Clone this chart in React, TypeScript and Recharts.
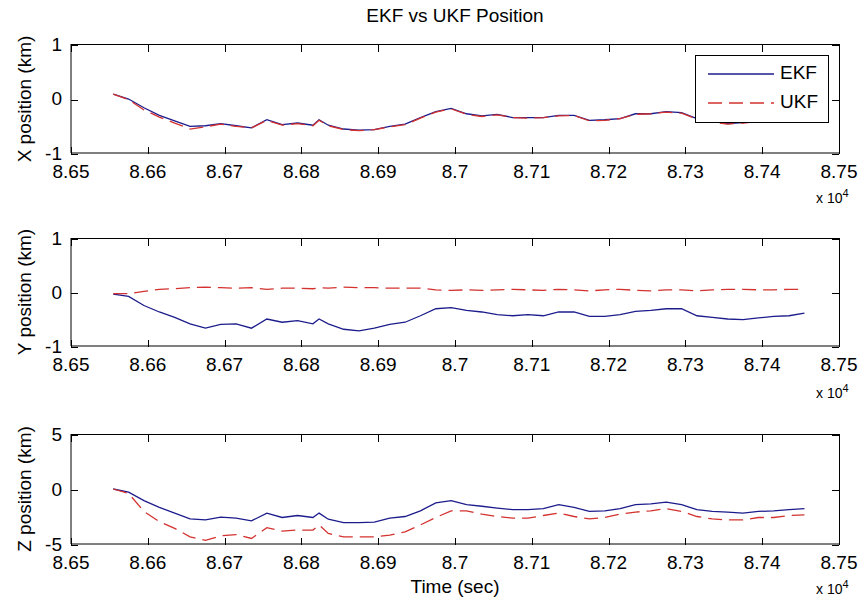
import React from 'react';
import { LineChart, Line, XAxis, YAxis } from 'recharts';

// time in units of 10^4 sec
const time = [
  8.6555, 8.6575, 8.6595, 8.6615, 8.6635, 8.6655, 8.6675, 8.6695, 8.6715, 8.6735, 8.6755, 8.6775,
  8.6795, 8.6815, 8.6823, 8.6835, 8.6855, 8.6875, 8.6895, 8.6915, 8.6935, 8.6955, 8.6975, 8.6995,
  8.7015, 8.7035, 8.7055, 8.7075, 8.7095, 8.7115, 8.7135, 8.7155, 8.7175, 8.7195, 8.7215, 8.7235,
  8.7255, 8.7275, 8.7295, 8.7315, 8.7335, 8.7355, 8.7375, 8.7395, 8.7415, 8.7435, 8.7455,
];

const xEkf = [
  0.08, -0.01, -0.17, -0.31, -0.41, -0.51, -0.5, -0.46, -0.5, -0.54, -0.39, -0.48,
  -0.45, -0.49, -0.39, -0.49, -0.56, -0.58, -0.57, -0.51, -0.47, -0.35, -0.24, -0.18,
  -0.28, -0.32, -0.29, -0.35, -0.35, -0.35, -0.31, -0.31, -0.4, -0.39, -0.37, -0.28,
  -0.28, -0.24, -0.26, -0.37, -0.42, -0.46, -0.44, -0.41, -0.39, -0.37, -0.35,
];
const xUkf = [
  0.08, -0.02, -0.21, -0.34, -0.45, -0.56, -0.52, -0.47, -0.51, -0.54, -0.4, -0.49,
  -0.46, -0.5, -0.4, -0.5, -0.57, -0.59, -0.57, -0.52, -0.48, -0.36, -0.25, -0.19,
  -0.29, -0.33, -0.3, -0.35, -0.36, -0.35, -0.32, -0.31, -0.41, -0.4, -0.37, -0.29,
  -0.28, -0.25, -0.27, -0.38, -0.43, -0.47, -0.45, -0.42, -0.4, -0.38, -0.36,
];

const yEkf = [
  -0.04, -0.08, -0.25, -0.37, -0.47, -0.59, -0.67, -0.6, -0.59, -0.67, -0.5, -0.56,
  -0.53, -0.59, -0.5, -0.59, -0.69, -0.72, -0.67, -0.6, -0.56, -0.44, -0.31, -0.29,
  -0.34, -0.37, -0.42, -0.44, -0.42, -0.44, -0.37, -0.37, -0.45, -0.45, -0.42, -0.36,
  -0.34, -0.31, -0.31, -0.44, -0.47, -0.5, -0.51, -0.48, -0.45, -0.44, -0.39,
];
const yUkf = [
  -0.03, -0.03, 0.01, 0.05, 0.06, 0.08, 0.09, 0.08, 0.07, 0.08, 0.05, 0.07,
  0.07, 0.06, 0.08, 0.07, 0.09, 0.08, 0.08, 0.07, 0.07, 0.07, 0.04, 0.03,
  0.04, 0.03, 0.04, 0.05, 0.04, 0.03, 0.05, 0.04, 0.02, 0.04, 0.05, 0.03,
  0.02, 0.04, 0.04, 0.02, 0.04, 0.05, 0.05, 0.04, 0.04, 0.05, 0.05,
];

const zEkf = [
  0, -0.28, -1.05, -1.67, -2.19, -2.72, -2.81, -2.56, -2.65, -2.9, -2.19, -2.59,
  -2.41, -2.59, -2.19, -2.75, -3.06, -3.06, -3.02, -2.65, -2.5, -1.98, -1.27, -1.05,
  -1.42, -1.57, -1.73, -1.88, -1.88, -1.79, -1.42, -1.67, -2.04, -1.98, -1.79, -1.42,
  -1.36, -1.2, -1.42, -1.88, -2.04, -2.1, -2.19, -2.04, -1.98, -1.88, -1.79,
];
const zUkf = [
  0, -0.4, -2.04, -2.96, -3.58, -4.35, -4.66, -4.26, -4.14, -4.5, -3.52, -3.83,
  -3.73, -3.73, -3.27, -4.04, -4.35, -4.35, -4.35, -4.2, -3.89, -3.27, -2.59, -1.98,
  -1.98, -2.28, -2.5, -2.65, -2.65, -2.41, -2.19, -2.5, -2.72, -2.59, -2.28, -2.1,
  -1.98, -1.79, -2.04, -2.5, -2.72, -2.81, -2.81, -2.59, -2.59, -2.41, -2.35,
];

const xTicks = [8.65, 8.66, 8.67, 8.68, 8.69, 8.7, 8.71, 8.72, 8.73, 8.74, 8.75];
const smallTicks = [-1, 0, 1];
const bigTicks = [-5, 0, 5];

const FONT = '"Liberation Sans", Arial, sans-serif';
const EKF_COLOR = '#1c1c8c';
const UKF_COLOR = '#d3322f';
const TICK_LEN = 7;
const CHART_W = 863;
const M_LEFT = 21;
const M_RIGHT = 24;
const Y_AXIS_W = 50;
const X_AXIS_H = 30;
const PLOT_L = M_LEFT + Y_AXIS_W;
const PLOT_W = CHART_W - M_LEFT - M_RIGHT - Y_AXIS_W;

const fmtX = (v: number) => String(Number(v.toFixed(2)));

const LegendBox = () => (
  <div style={{
    width: 134, height: 68, boxSizing: 'border-box', border: '1px solid #000',
    background: '#fff', fontFamily: FONT, fontSize: 19, position: 'relative',
  }}>
    <svg width={80} height={66} style={{ position: 'absolute', left: 0, top: 0 }}>
      <line x1={12} y1={18} x2={78} y2={18} stroke={EKF_COLOR} strokeWidth={1.3} />
      <line x1={12} y1={47} x2={78} y2={47} stroke={UKF_COLOR} strokeWidth={1.3} strokeDasharray="14 7" />
    </svg>
    <div style={{ position: 'absolute', left: 84, top: 6 }}>EKF</div>
    <div style={{ position: 'absolute', left: 84, top: 35 }}>UKF</div>
  </div>
);

interface PanelProps {
  ekf: number[];
  ukf: number[];
  yTicks: number[];
  yLabel: string;
  top: number;
  height: number;
  mTop: number;
  mBottom: number;
}

// matlab style box with inward ticks, drawn as plain html so it sits on top of the chart
const Frame = ({ top, height, mTop, mBottom, yTicks }: PanelProps) => {
  const t = top + mTop;
  const h = height - mTop - mBottom - X_AXIS_H;
  const lo = yTicks[0];
  const hi = yTicks[yTicks.length - 1];
  const px = (v: number) => ((v - xTicks[0]) / (xTicks[xTicks.length - 1] - xTicks[0])) * PLOT_W;
  const py = (v: number) => h - ((v - lo) / (hi - lo)) * h;
  const mark = { position: 'absolute' as const, background: '#000' };
  return (
    <div style={{
      position: 'absolute', left: PLOT_L, top: t, width: PLOT_W, height: h,
      borderTop: '1px solid #000', borderRight: '1px solid #000', zIndex: 5, pointerEvents: 'none',
    }}>
      {xTicks.map((v) => (
        <React.Fragment key={'x' + v}>
          <div style={{ ...mark, left: px(v), top: 0, width: 1, height: TICK_LEN }} />
          <div style={{ ...mark, left: px(v), top: h - TICK_LEN, width: 1, height: TICK_LEN }} />
        </React.Fragment>
      ))}
      {yTicks.map((v) => (
        <React.Fragment key={'y' + v}>
          <div style={{ ...mark, left: 0, top: py(v), width: TICK_LEN, height: 1 }} />
          <div style={{ ...mark, left: PLOT_W - TICK_LEN, top: py(v), width: TICK_LEN, height: 1 }} />
        </React.Fragment>
      ))}
    </div>
  );
};

const Panel = ({ ekf, ukf, yTicks, yLabel, top, height, mTop, mBottom }: PanelProps) => {
  const data = time.map((t, i) => ({ t, ekf: ekf[i], ukf: ukf[i] }));
  const lo = yTicks[0];
  const hi = yTicks[yTicks.length - 1];
  const tickStyle = { fill: '#000', fontSize: 19, fontFamily: FONT };
  const midY = mTop + (height - mTop - mBottom - X_AXIS_H) / 2;
  return (
    <div style={{ position: 'absolute', left: 0, top }}>
      <LineChart width={CHART_W} height={height} data={data}
        margin={{ top: mTop, right: M_RIGHT, bottom: mBottom, left: M_LEFT }}>
        <XAxis dataKey="t" type="number" domain={[8.65, 8.75]} ticks={xTicks}
          tickFormatter={fmtX} height={X_AXIS_H} tickLine={false} tickSize={0} tickMargin={12}
          stroke="#000" tick={tickStyle} interval={0} />
        <YAxis type="number" domain={[lo, hi]} ticks={yTicks} width={Y_AXIS_W}
          tickLine={false} tickSize={0} tickMargin={9} stroke="#000" tick={tickStyle} interval={0} />
        <Line dataKey="ekf" type="linear" stroke={EKF_COLOR} strokeWidth={1.3} dot={false} isAnimationActive={false} />
        <Line dataKey="ukf" type="linear" stroke={UKF_COLOR} strokeWidth={1.3} strokeDasharray="14 7"
          dot={false} isAnimationActive={false} />
      </LineChart>
      <div style={{
        position: 'absolute', left: 25, top: midY, transform: 'translate(-50%, -50%) rotate(-90deg)',
        fontFamily: FONT, fontSize: 19, whiteSpace: 'nowrap',
      }}>
        {yLabel}
      </div>
    </div>
  );
};

const Exp = ({ top }: { top: number }) => (
  <div style={{ position: 'absolute', left: 816, top, fontFamily: FONT, fontSize: 14, whiteSpace: 'nowrap' }}>
    x 10<sup style={{ fontSize: 11 }}>4</sup>
  </div>
);

const panels: PanelProps[] = [
  { ekf: xEkf, ukf: xUkf, yTicks: smallTicks, yLabel: 'X position (km)', top: 0, height: 200, mTop: 44, mBottom: 17 },
  { ekf: yEkf, ukf: yUkf, yTicks: smallTicks, yLabel: 'Y position (km)', top: 190, height: 200, mTop: 48, mBottom: 14 },
  { ekf: zEkf, ukf: zUkf, yTicks: bigTicks, yLabel: 'Z position (km)', top: 390, height: 222, mTop: 44, mBottom: 38 },
];

export default function App() {
  return (
    <div style={{ position: 'absolute', left: 0, top: 0, width: 863, height: 612, background: '#fff', fontFamily: FONT }}>
      <div style={{ position: 'absolute', left: 0, width: 910, top: 5, textAlign: 'center', fontSize: 19 }}>
        EKF vs UKF Position
      </div>
      {panels.map((p) => <Panel key={p.yLabel} {...p} />)}
      {panels.map((p) => <Frame key={'f' + p.yLabel} {...p} />)}
      <div style={{ position: 'absolute', left: 695, top: 55, zIndex: 11 }}>
        <LegendBox />
      </div>
      <Exp top={187} />
      <Exp top={382} />
      <Exp top={578} />
      <div style={{ position: 'absolute', left: 0, width: 910, top: 576, textAlign: 'center', fontSize: 19 }}>
        Time (sec)
      </div>
    </div>
  );
}
